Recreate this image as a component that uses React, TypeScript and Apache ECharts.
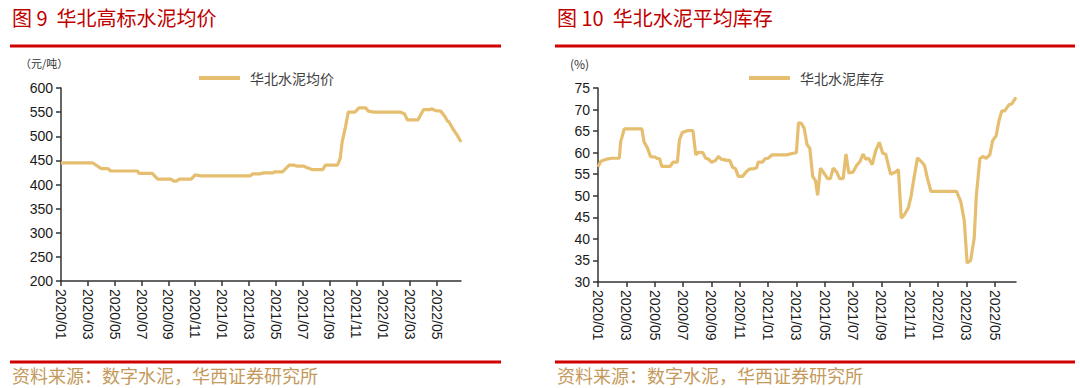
import React, { useEffect, useRef } from "react";
import * as echarts from "echarts";

// X positions are in months since 2020/01 (0 = 2020/01)
const xTickLabels = [
  "2020/01", "2020/03", "2020/05", "2020/07", "2020/09", "2020/11",
  "2021/01", "2021/03", "2021/05", "2021/07", "2021/09", "2021/11",
  "2022/01", "2022/03", "2022/05",
];
const xTickValues = xTickLabels.map((_, i) => i * 2);

// 华北水泥均价 (元/吨)
const priceMonths = [
  0, 2.35, 3.0, 3.5, 3.7, 5.7, 5.8, 6.8, 7.2, 8.2, 8.4, 8.6, 8.8, 9.7, 10.0, 10.4,
  14.1, 14.3, 14.8, 15.1, 15.8, 15.9, 16.5, 17.0, 17.4, 17.6, 18.1, 18.3, 18.7, 19.5,
  19.7, 20.6, 20.8, 20.95, 21.2, 21.4, 21.9, 22.2, 22.7, 22.9, 23.3, 25.3, 25.6, 25.8,
  26.6, 27.0, 27.5, 27.6, 27.9, 28.3, 28.6, 28.8, 28.9, 29.2, 29.5, 29.8,
];
const priceValues = [
  445, 445, 433, 433, 428, 428, 423, 423, 411, 411, 407, 407, 411, 411, 420, 418,
  418, 422, 422, 424, 424, 426, 426, 440, 440, 438, 438, 435, 431, 431,
  440, 440, 454, 489, 520, 550, 550, 559, 559, 552, 550, 550, 546, 534,
  534, 555, 555, 557, 553, 552, 541, 531, 530, 515, 503, 488,
];

// 华北水泥库存 (%)
const stockMonths = [
  0, 0.2, 0.6, 1.0, 1.5, 1.6, 1.85, 3.1, 3.25, 3.5, 3.7, 4.0, 4.2, 4.35, 4.5, 5.1,
  5.3, 5.6, 5.75, 5.95, 6.3, 6.7, 6.9, 7.1, 7.4, 7.6, 7.8, 8.0, 8.3, 8.5, 8.7, 9.1,
  9.3, 9.5, 9.7, 9.9, 10.2, 10.5, 10.7, 11.0, 11.2, 11.3, 11.6, 11.8, 12.0, 12.3,
  13.3, 13.7, 14.0, 14.15, 14.35, 14.55, 14.75, 14.95, 15.15, 15.35, 15.5, 15.7,
  16.0, 16.2, 16.4, 16.6, 16.85, 17.05, 17.3, 17.5, 17.7, 18.0, 18.25, 18.5, 18.7,
  18.9, 19.1, 19.35, 19.6, 19.85, 20.1, 20.3, 20.5, 20.65, 21.0, 21.2, 21.4, 21.6,
  21.9, 22.1, 22.3, 22.55, 22.8, 23.05, 23.25, 23.5, 25.3, 25.6, 25.85, 26.05, 26.3,
  26.55, 26.7, 26.95, 27.15, 27.4, 27.65, 27.85, 28.1, 28.3, 28.5, 28.7, 29.0, 29.2, 29.5,
];
const stockValues = [
  56.7, 58, 58.5, 58.7, 58.7, 62.5, 65.5, 65.5, 62.5, 61, 59.1, 59, 58.6, 58.6, 56.8, 56.8,
  57.8, 57.8, 63, 64.7, 65.1, 65.1, 59.5, 60.1, 60, 58.7, 58.5, 57.8, 58.2, 59.1, 58.5, 58.2,
  58.2, 56.6, 56.3, 54.5, 54.5, 55.7, 56.2, 56.3, 56.5, 57.8, 57.8, 58.6, 58.7, 59.5,
  59.5, 59.8, 60, 66.9, 66.8, 65.7, 61.9, 61, 54.5, 53.5, 50.1, 56.4,
  55, 54, 54, 56.4, 55.5, 54, 54, 59.7, 55.3, 55.5, 57, 58, 59.7,
  58.5, 58.7, 57.2, 60.5, 62.4, 59.8, 59.7, 57, 55, 55.5, 56.1, 44.8, 45.5,
  47.2, 50, 54.1, 58.8, 58, 57, 54, 51, 51, 48.7, 44.2, 34.4, 35,
  40.2, 50, 58.6, 59.1, 58.7, 59.5, 62.8, 63.9, 67.4, 69.7, 69.7, 71.1, 71.3, 72.8,
];

const LINE_COLOR = "#E5BE70";
const RED = "#D10000";
const TITLE_RED = "#C00000";
const SOURCE_COLOR = "#C49A5C";
const AXIS_COLOR = "#333333";
const CJK = "'Noto Sans CJK SC', sans-serif";
const LATIN = "'Liberation Sans', Arial, sans-serif";

function xAxisCfg(gridIndex: number, max: number) {
  return {
    type: "value",
    gridIndex,
    min: 0,
    max,
    interval: 2,
    splitLine: { show: false },
    axisLine: { show: true, lineStyle: { color: AXIS_COLOR, width: 1.5 } },
    axisTick: {
      show: true,
      length: 5,
      customValues: xTickValues,
      lineStyle: { color: AXIS_COLOR, width: 1.5 },
    },
    axisLabel: {
      customValues: xTickValues,
      rotate: -90,
      margin: 8,
      fontSize: 14,
      fontFamily: LATIN,
      color: "#1a1a1a",
      formatter: (v: number) => xTickLabels[Math.round(v / 2)] ?? "",
    },
  };
}

function yAxisCfg(gridIndex: number, min: number, max: number, interval: number) {
  return {
    type: "value",
    gridIndex,
    min,
    max,
    interval,
    splitLine: { show: false },
    axisLine: { show: true, lineStyle: { color: AXIS_COLOR, width: 1.5 } },
    axisTick: { show: true, length: 5, lineStyle: { color: AXIS_COLOR, width: 1.5 } },
    axisLabel: { margin: 8, fontSize: 14, fontFamily: LATIN, color: "#1a1a1a" },
  };
}

export default function App() {
  const ref = useRef<HTMLDivElement>(null);

  useEffect(() => {
    if (!ref.current) return;
    const chart = echarts.init(ref.current, undefined, { renderer: "svg" });

    const priceData = priceMonths.map((m, i) => [m, priceValues[i]]);
    const stockData = stockMonths.map((m, i) => [m, stockValues[i]]);

    const legendText = { fontSize: 14, fontFamily: CJK, color: "#404040", padding: [0, 0, 0, 5] };

    chart.setOption({
      animation: false,
      backgroundColor: "#ffffff",
      grid: [
        { left: 61, top: 88, width: 400, height: 193, containLabel: false },
        { left: 598, top: 88, width: 418, height: 194, containLabel: false },
      ],
      xAxis: [xAxisCfg(0, 29.8), xAxisCfg(1, 29.5)],
      yAxis: [yAxisCfg(0, 200, 600, 50), yAxisCfg(1, 30, 75, 5)],
      legend: [
        {
          data: ["华北水泥均价"],
          left: 194,
          top: 66,
          icon: "rect",
          itemWidth: 41,
          itemHeight: 4,
          textStyle: legendText,
        },
        {
          data: ["华北水泥库存"],
          left: 744,
          top: 66,
          icon: "rect",
          itemWidth: 41,
          itemHeight: 4,
          textStyle: legendText,
        },
      ],
      series: [
        {
          name: "华北水泥均价",
          type: "line",
          xAxisIndex: 0,
          yAxisIndex: 0,
          data: priceData,
          showSymbol: false,
          symbol: "none",
          lineStyle: { color: LINE_COLOR, width: 3.2 },
          itemStyle: { color: LINE_COLOR },
        },
        {
          name: "华北水泥库存",
          type: "line",
          xAxisIndex: 1,
          yAxisIndex: 1,
          data: stockData,
          showSymbol: false,
          symbol: "none",
          lineStyle: { color: LINE_COLOR, width: 3.2 },
          itemStyle: { color: LINE_COLOR },
        },
      ],
      graphic: [
        {
          type: "text",
          left: 12,
          top: 7,
          style: { text: "图 9  华北高标水泥均价", fill: TITLE_RED, font: `20px ${CJK}` },
        },
        {
          type: "text",
          left: 557,
          top: 7,
          style: { text: "图 10  华北水泥平均库存", fill: TITLE_RED, font: `20px ${CJK}` },
        },
        { type: "line", shape: { x1: 10, y1: 46, x2: 501, y2: 46 }, style: { stroke: RED, lineWidth: 3 } },
        { type: "line", shape: { x1: 555, y1: 46, x2: 1075, y2: 46 }, style: { stroke: RED, lineWidth: 3 } },
        { type: "line", shape: { x1: 10, y1: 362, x2: 501, y2: 362 }, style: { stroke: RED, lineWidth: 3 } },
        { type: "line", shape: { x1: 555, y1: 362, x2: 1075, y2: 362 }, style: { stroke: RED, lineWidth: 3 } },
        {
          type: "text",
          left: 20,
          top: 57,
          style: { text: "（元/吨）", fill: "#333", font: `11px ${CJK}` },
        },
        {
          type: "text",
          left: 570,
          top: 57,
          style: { text: "(%)", fill: "#333", font: `12px ${CJK}` },
        },
        {
          type: "text",
          left: 12,
          top: 366,
          style: { text: "资料来源：数字水泥，华西证券研究所", fill: SOURCE_COLOR, font: `18px ${CJK}` },
        },
        {
          type: "text",
          left: 557,
          top: 366,
          style: { text: "资料来源：数字水泥，华西证券研究所", fill: SOURCE_COLOR, font: `18px ${CJK}` },
        },
      ],
    });

    return () => chart.dispose();
  }, []);

  return (
    <div
      ref={ref}
      style={{ position: "fixed", left: 0, top: 0, width: 1080, height: 388, background: "#fff" }}
    />
  );
}
